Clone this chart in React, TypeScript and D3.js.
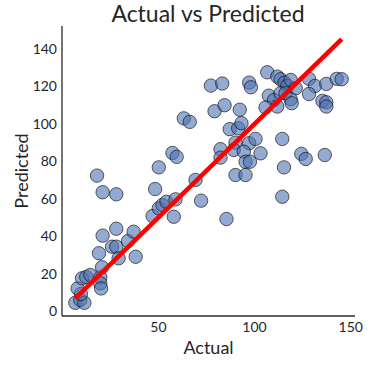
import React, { useRef, useEffect } from 'react';
import * as d3 from 'd3';

// values
const actual: number[] = [
  6.8, 9.4, 11.5, 9.7, 8.0, 10.3, 12.5, 14.6, 19.8, 19.8, 20.2, 20.7, 19.1, 21.0, 25.9, 28.1,
  29.3, 28.1, 34.2, 37.1, 38.2, 18.1, 21.0, 28.1, 47.0, 50.2, 52.1, 54.2, 58.0, 48.3, 50.2, 57.3,
  59.5, 69.3, 72.2, 58.9, 85.4, 63.2, 66.3, 77.3, 83.2, 79.2, 84.4, 92.3, 97.2, 98.1, 87.1, 91.5,
  93.2, 90.1, 97.2, 100.5, 82.3, 82.3, 89.2, 94.4, 103.1, 95.3, 97.6, 90.1, 95.3, 106.6, 111.8, 113.5,
  115.6, 117.0, 118.8, 121.4, 107.4, 110.1, 111.8, 105.7, 113.5, 116.1, 118.8, 119.3, 128.3, 131.4, 137.3, 142.7,
  145.3, 128.3, 135.3, 137.3, 137.3, 114.4, 124.3, 126.6, 136.5, 115.3, 114.4,
];
const predicted: number[] = [
  4.4, 5.9, 4.4, 9.1, 12.1, 17.5, 18.2, 19.3, 18.0, 14.8, 12.1, 23.4, 30.9, 40.3, 34.4, 34.4,
  28.2, 44.0, 37.4, 42.4, 29.0, 72.4, 63.5, 62.4, 50.8, 54.9, 56.7, 58.4, 50.4, 65.2, 76.8, 84.5,
  82.4, 70.1, 59.0, 59.7, 49.2, 103.0, 101.1, 120.5, 121.6, 106.8, 110.0, 107.6, 122.1, 119.6, 97.2, 97.7,
  100.4, 90.0, 89.7, 92.0, 86.5, 82.0, 86.1, 85.2, 84.3, 79.8, 79.8, 72.7, 72.7, 127.6, 125.3, 123.9,
  122.1, 120.3, 123.5, 119.1, 115.1, 112.8, 109.3, 108.8, 116.4, 116.4, 113.2, 111.1, 124.1, 120.3, 121.4, 124.1,
  123.9, 116.0, 112.3, 111.6, 109.3, 92.0, 84.0, 81.3, 83.4, 76.8, 61.1,
];
const xTicks: number[] = [50, 100, 150];
const yTicks: number[] = [0, 20, 40, 60, 80, 100, 120, 140];

const W = 376;
const H = 365;
const FONT = 'Lato, "Open Sans", sans-serif';

const App: React.FC = () => {
  const svgRef = useRef<SVGSVGElement | null>(null);

  useEffect(() => {
    const svg = d3.select(svgRef.current);
    svg.selectAll('*').remove();

    const left = 62, right = 355, top = 26, bottom = 316;

    // matplotlib-like 5% margins around everything that is plotted
    const lo = d3.min(actual) || 0;
    const hi = d3.max(actual) || 0;
    const yMin = Math.min(d3.min(predicted) || 0, lo);
    const yMax = Math.max(d3.max(predicted) || 0, hi);
    const xPad = (hi - lo) * 0.05;
    const yPad = (yMax - yMin) * 0.05;

    const x = d3.scaleLinear().domain([lo - xPad, hi + xPad]).range([left, right]);
    const y = d3.scaleLinear().domain([yMin - yPad, yMax + yPad]).range([bottom, top]);

    // spines
    svg.append('line')
      .attr('x1', left).attr('x2', left).attr('y1', top).attr('y2', bottom)
      .attr('stroke', '#2a2a2a').attr('stroke-width', 1.3);
    svg.append('line')
      .attr('x1', left).attr('x2', right).attr('y1', bottom).attr('y2', bottom)
      .attr('stroke', '#2a2a2a').attr('stroke-width', 1.3);

    svg.append('g')
      .selectAll('text')
      .data(yTicks)
      .enter()
      .append('text')
      .attr('x', left - 5)
      .attr('y', d => y(d))
      .attr('dy', '0.35em')
      .attr('text-anchor', 'end')
      .style('font-family', FONT)
      .style('font-size', '14px')
      .attr('fill', '#262626')
      .text(d => d);

    svg.append('g')
      .selectAll('text')
      .data(xTicks)
      .enter()
      .append('text')
      .attr('x', d => x(d))
      .attr('y', bottom + 16)
      .attr('text-anchor', 'middle')
      .style('font-family', FONT)
      .style('font-size', '14px')
      .attr('fill', '#262626')
      .text(d => d);

    svg.selectAll('.pt')
      .data(actual)
      .enter()
      .append('circle')
      .attr('class', 'pt')
      .attr('cx', d => x(d))
      .attr('cy', (d, i) => y(predicted[i]))
      .attr('r', 6.7)
      .attr('fill', '#4C72B0')
      .attr('fill-opacity', 0.6)
      .attr('stroke', '#000')
      .attr('stroke-opacity', 0.6)
      .attr('stroke-width', 1);

    svg.append('line')
      .attr('x1', x(lo)).attr('y1', y(lo))
      .attr('x2', x(hi)).attr('y2', y(hi))
      .attr('stroke', '#ff0000')
      .attr('stroke-width', 4.5);

    svg.append('text')
      .attr('x', 208).attr('y', 22)
      .attr('text-anchor', 'middle')
      .style('font-family', FONT)
      .style('font-size', '23px')
      .attr('fill', '#262626')
      .text('Actual vs Predicted');

    svg.append('text')
      .attr('x', (left + right) / 2).attr('y', 354)
      .attr('text-anchor', 'middle')
      .style('font-family', FONT)
      .style('font-size', '18px')
      .attr('fill', '#262626')
      .text('Actual');

    svg.append('text')
      .attr('transform', `translate(28, ${(top + bottom) / 2}) rotate(-90)`)
      .attr('text-anchor', 'middle')
      .style('font-family', FONT)
      .style('font-size', '18px')
      .attr('fill', '#262626')
      .text('Predicted');
  }, []);

  return (
    <svg
      ref={svgRef}
      width={W}
      height={H}
      style={{ position: 'absolute', left: 0, top: 0, background: '#fff' }}
    ></svg>
  );
};

export default App;
